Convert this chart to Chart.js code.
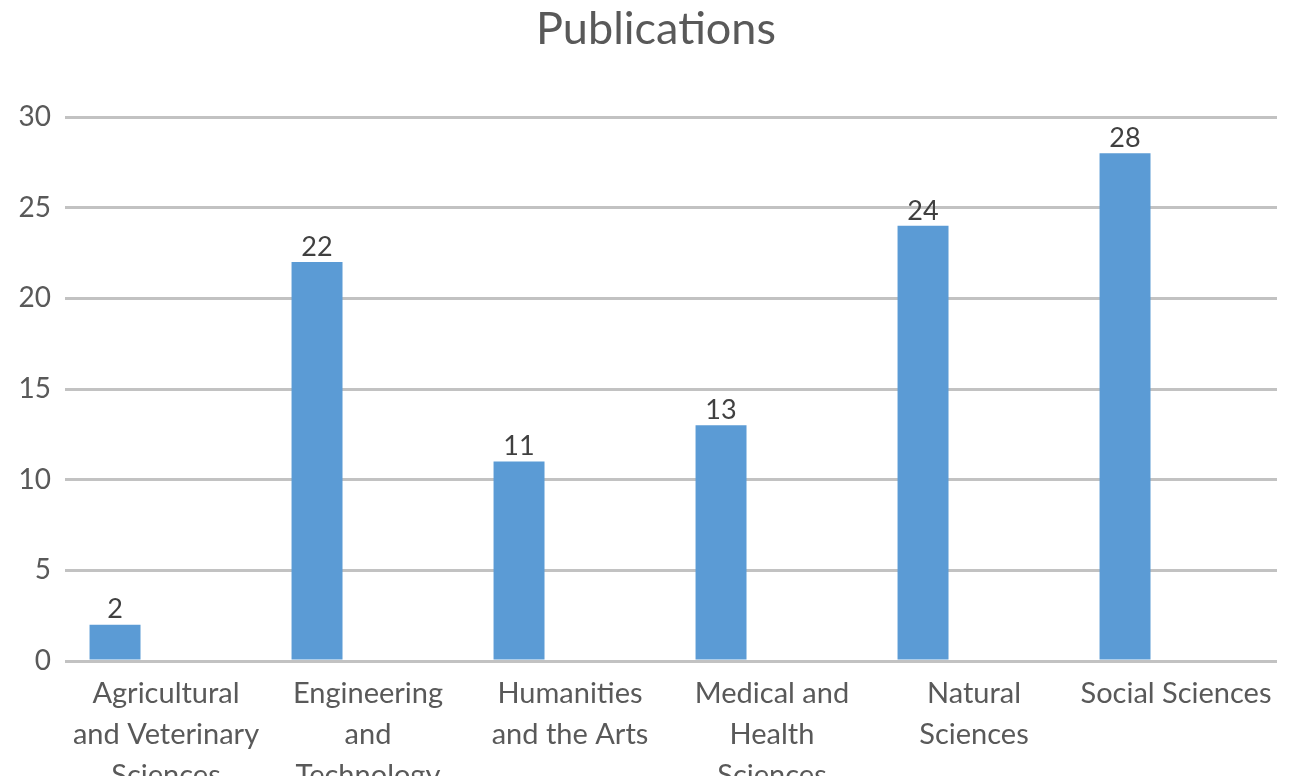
<!DOCTYPE html>
<html>
<head>
<meta charset="utf-8">
<script src="https://cdn.jsdelivr.net/npm/chart.js@4/dist/chart.umd.min.js"></script>
<style>
  html, body { margin: 0; padding: 0; background: #fff; overflow: hidden; }
  #wrap { width: 1297px; height: 810px; position: relative; }
</style>
</head>
<body>
<div id="wrap"><canvas id="c"></canvas></div>
<script>
const categories = [
  ["Agricultural", "and Veterinary", "Sciences"],
  ["Engineering", "and", "Technology"],
  ["Humanities", "and the Arts"],
  ["Medical and", "Health", "Sciences"],
  ["Natural", "Sciences"],
  ["Social Sciences"]
];
const publications = [2, 22, 11, 13, 24, 28];
const emptySeriesA = [null, null, null, null, null, null];
const emptySeriesB = [null, null, null, null, null, null];
const yTicks = [0, 5, 10, 15, 20, 25, 30];
const chartTitle = 'Publications';

const FONT = "Lato, 'Open Sans', sans-serif";

const valueLabels = {
  id: 'valueLabels',
  afterDatasetsDraw(chart) {
    const ctx = chart.ctx;
    const meta = chart.getDatasetMeta(0);
    ctx.save();
    ctx.font = "27px " + FONT;
    ctx.fillStyle = '#404040';
    ctx.textAlign = 'center';
    ctx.textBaseline = 'middle';
    meta.data.forEach((bar, i) => {
      const v = chart.data.datasets[0].data[i];
      if (v == null) return;
      ctx.fillText(String(v), bar.x, bar.y - 15);
    });
    ctx.restore();
  }
};

const titlePlugin = {
  id: 'titlePlugin',
  afterDraw(chart) {
    const ctx = chart.ctx;
    const a = chart.chartArea;
    ctx.save();
    ctx.font = "45px " + FONT;
    ctx.fillStyle = '#595959';
    ctx.textAlign = 'center';
    ctx.textBaseline = 'alphabetic';
    ctx.fillText(chartTitle, (a.left + a.right) / 2 - 15, 44);
    ctx.restore();
  }
};

new Chart(document.getElementById('c'), {
  type: 'bar',
  data: {
    labels: categories,
    datasets: [
      { label: 'Publications', data: publications, backgroundColor: '#5B9BD5', borderWidth: 0 },
      { label: 'B', data: emptySeriesA, backgroundColor: '#ED7D31' },
      { label: 'C', data: emptySeriesB, backgroundColor: '#A5A5A5' }
    ]
  },
  options: {
    responsive: true,
    maintainAspectRatio: false,
    animation: false,
    categoryPercentage: 0.757,
    barPercentage: 1.0,
    layout: { padding: { left: 0, right: 20, top: 117, bottom: 0 } },
    plugins: {
      legend: { display: false },
      tooltip: { enabled: false },
      title: { display: false }
    },
    scales: {
      x: {
        grid: { display: false, drawTicks: false },
        border: { display: false },
        ticks: {
          color: '#595959',
          font: { family: FONT, size: 29, lineHeight: 1.414 },
          padding: 12,
          maxRotation: 0,
          autoSkip: false
        },
        afterFit(s) { s.height = 149; }
      },
      y: {
        min: 0,
        max: 30,
        afterBuildTicks(s) { s.ticks = yTicks.map(v => ({ value: v })); },
        grid: { color: '#c2c2c2', lineWidth: 3, drawTicks: false },
        border: { display: false },
        ticks: {
          color: '#595959',
          font: { family: FONT, size: 28 },
          padding: 14
        },
        afterFit(s) { s.width = 65; }
      }
    }
  },
  plugins: [valueLabels, titlePlugin]
});
</script>
</body>
</html>
